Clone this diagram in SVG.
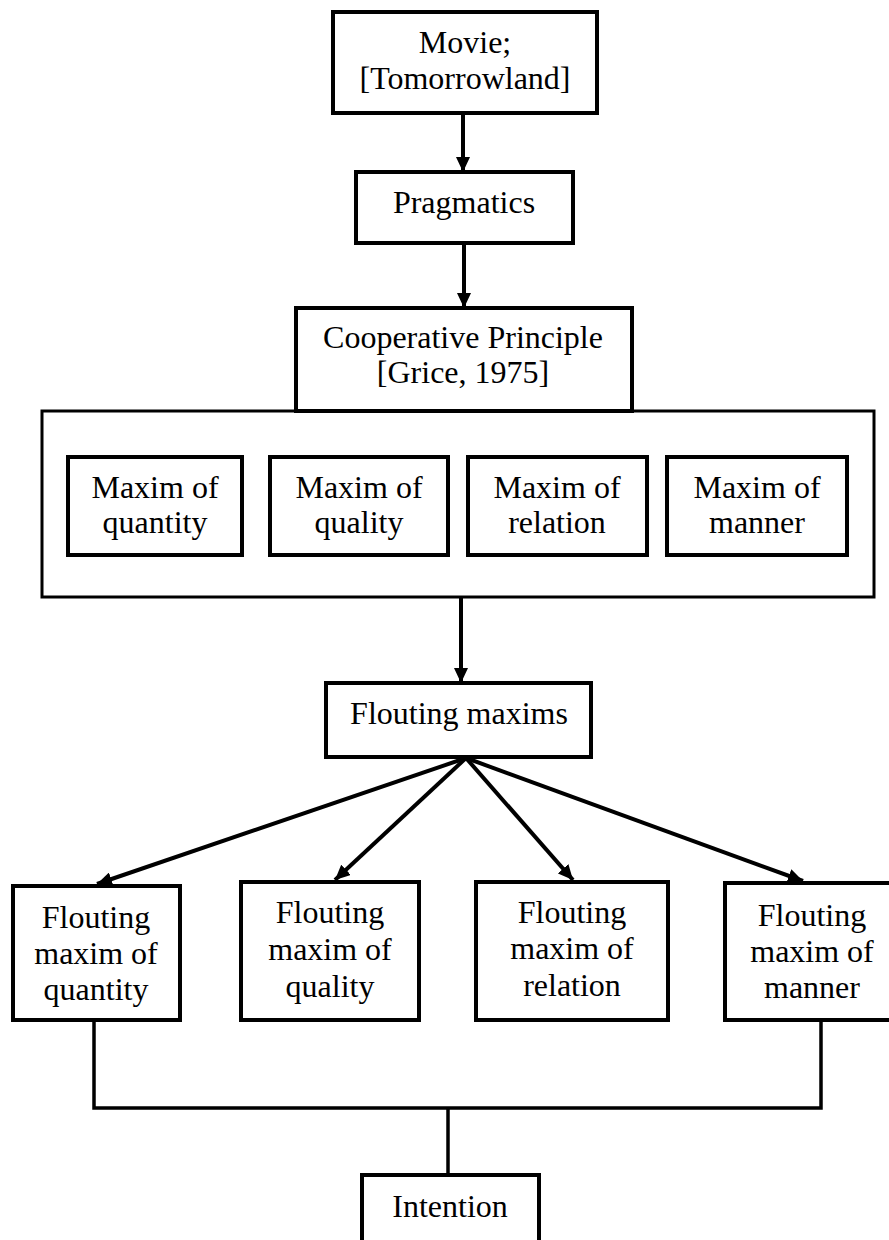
<svg xmlns="http://www.w3.org/2000/svg" width="889" height="1240" viewBox="0 0 889 1240">
<style>
.box{fill:#fff;stroke:#000;stroke-width:4}
.outer{fill:#fff;stroke:#000;stroke-width:3}
text{font-family:"Liberation Serif","Times New Roman",serif;font-size:32px;fill:#000;text-anchor:middle}
.c{stroke:#000;stroke-width:4;fill:none}
.t{stroke:#000;stroke-width:3.5;fill:none}
</style>
<defs>
<marker id="ah" markerUnits="userSpaceOnUse" markerWidth="16" markerHeight="14" refX="15" refY="7" orient="auto">
<path d="M0,0 L15,7 L0,14 z" fill="#000"/>
</marker>
</defs>
<rect width="889" height="1240" fill="#fff"/>
<g id="connectors">
<line class="c" x1="463" y1="113" x2="463" y2="172" marker-end="url(#ah)"/>
<line class="c" x1="464" y1="243" x2="464" y2="308" marker-end="url(#ah)"/>
<line class="c" x1="461" y1="597" x2="461" y2="683" marker-end="url(#ah)"/>
<line class="c" x1="466" y1="758" x2="97" y2="884" marker-end="url(#ah)"/>
<line class="c" x1="466" y1="758" x2="335" y2="880" marker-end="url(#ah)"/>
<line class="c" x1="466" y1="758" x2="573" y2="880" marker-end="url(#ah)"/>
<line class="c" x1="466" y1="758" x2="803" y2="881" marker-end="url(#ah)"/>
<polyline class="t" points="94,1020 94,1108 821,1108 821,1020"/>
<line class="t" x1="448" y1="1108" x2="448" y2="1175"/>
</g>
<g id="movie">
<rect class="box" x="333" y="12" width="264" height="101"/>
<text x="465" y="53">Movie;</text>
<text x="465" y="89">[Tomorrowland]</text>
</g>
<g id="pragmatics">
<rect class="box" x="356" y="172" width="217" height="71"/>
<text x="464" y="213">Pragmatics</text>
</g>
<g id="maxims-group">
<rect class="outer" x="42" y="411" width="832" height="186"/>
</g>
<g id="cooperative">
<rect class="box" x="296" y="308" width="336" height="103"/>
<text x="463" y="348">Cooperative Principle</text>
<text x="463" y="383">[Grice, 1975]</text>
</g>
<g id="maxim-quantity">
<rect class="box" x="68" y="457" width="174" height="98"/>
<text x="155" y="498">Maxim of</text>
<text x="155" y="533">quantity</text>
</g>
<g id="maxim-quality">
<rect class="box" x="270" y="457" width="178" height="98"/>
<text x="359" y="498">Maxim of</text>
<text x="359" y="533">quality</text>
</g>
<g id="maxim-relation">
<rect class="box" x="468" y="457" width="179" height="98"/>
<text x="557" y="498">Maxim of</text>
<text x="557" y="533">relation</text>
</g>
<g id="maxim-manner">
<rect class="box" x="667" y="457" width="180" height="98"/>
<text x="757" y="498">Maxim of</text>
<text x="757" y="533">manner</text>
</g>
<g id="flouting-maxims">
<rect class="box" x="326" y="683" width="265" height="74"/>
<text x="459" y="724">Flouting maxims</text>
</g>
<g id="flouting-quantity">
<rect class="box" x="13" y="886" width="167" height="134"/>
<text x="96" y="928">Flouting</text>
<text x="96" y="964">maxim of</text>
<text x="96" y="1000">quantity</text>
</g>
<g id="flouting-quality">
<rect class="box" x="241" y="882" width="178" height="138"/>
<text x="330" y="923">Flouting</text>
<text x="330" y="960">maxim of</text>
<text x="330" y="997">quality</text>
</g>
<g id="flouting-relation">
<rect class="box" x="476" y="882" width="192" height="138"/>
<text x="572" y="923">Flouting</text>
<text x="572" y="959">maxim of</text>
<text x="572" y="996">relation</text>
</g>
<g id="flouting-manner">
<rect class="box" x="725" y="883" width="175" height="137"/>
<text x="812" y="926">Flouting</text>
<text x="812" y="962">maxim of</text>
<text x="812" y="998">manner</text>
</g>
<g id="intention">
<rect class="box" x="362" y="1175" width="177" height="80"/>
<text x="450" y="1217">Intention</text>
</g>
</svg>
